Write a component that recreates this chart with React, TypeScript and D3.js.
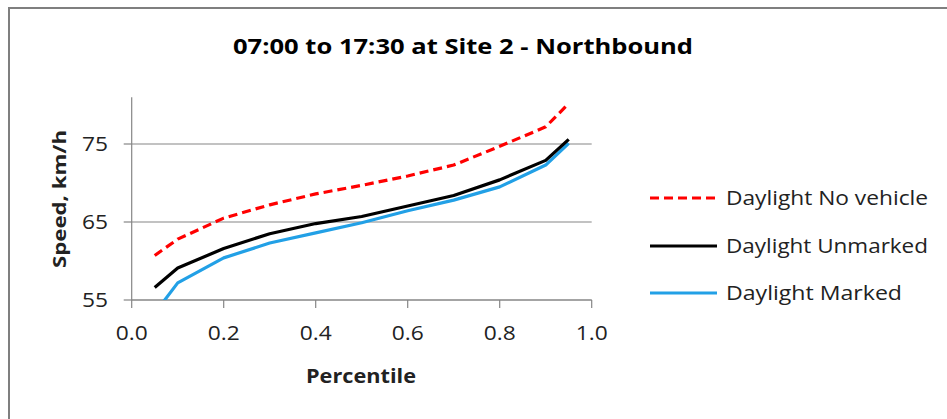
import React from "react";
import * as d3 from "d3";

const percentiles = [0.05, 0.1, 0.2, 0.3, 0.4, 0.5, 0.6, 0.7, 0.8, 0.9, 0.95];
const noVehicle = [60.7, 62.8, 65.5, 67.2, 68.6, 69.7, 70.9, 72.3, 74.7, 77.2, 80.2];
const unmarked = [56.6, 59.1, 61.6, 63.5, 64.8, 65.7, 67.05, 68.4, 70.4, 72.9, 75.6];
const marked = [53.3, 57.2, 60.4, 62.3, 63.6, 64.9, 66.45, 67.8, 69.5, 72.3, 75.1];
const xTicks = [0, 0.2, 0.4, 0.6, 0.8, 1.0];
const yTicks = [55, 65, 75];
const seriesNames = ["Daylight No vehicle", "Daylight Unmarked", "Daylight Marked"];
const titleText = "07:00 to 17:30  at Site 2 - Northbound";

const FONT = "'Open Sans', 'Noto Sans', sans-serif";

export default function App() {
  const x = d3.scaleLinear().domain([0, 1]).range([131.7, 591.7]);
  const y = d3.scaleLinear().domain([55, 81]).range([300, 97.2]);
  const line = d3
    .line<number>()
    .x((_, i) => x(percentiles[i]))
    .y((d) => y(d))
    .curve(d3.curveLinear);

  const series = [
    { name: seriesNames[0], values: noVehicle, color: "#FF0000", dash: "9,5", len: 202 },
    { name: seriesNames[1], values: unmarked, color: "#000000", dash: undefined, len: 202 },
    { name: seriesNames[2], values: marked, color: "#22A0E6", dash: undefined, len: 176 },
  ];
  const axisColor = "#868686";
  const legendY = [198, 246, 293];

  return (
    <svg
      width={947}
      height={419}
      style={{ position: "absolute", left: 0, top: 0, background: "#fff" }}
    >
      <defs>
        <clipPath id="plot">
          <rect x={x(0)} y={y(81) - 5} width={x(1) - x(0)} height={y(55) - y(81) + 5} />
        </clipPath>
      </defs>
      <rect x={9} y={8} width={1000} height={500} fill="#fff" stroke="#7f7f7f" strokeWidth={2} />
      <text
        x={463}
        y={54}
        textAnchor="middle"
        fontFamily={FONT}
        fontWeight="bold"
        fontSize={22}
        fill="#000"
        textLength={460}
        lengthAdjust="spacingAndGlyphs"
      >
        {titleText}
      </text>
      {/* gridlines */}
      {yTicks.map((t) => (
        <line key={"g" + t} x1={x(0)} x2={x(1)} y1={y(t)} y2={y(t)} stroke={axisColor} strokeWidth={1.2} />
      ))}
      {/* y axis */}
      <line x1={x(0)} x2={x(0)} y1={y(81)} y2={y(55)} stroke={axisColor} strokeWidth={1.2} />
      {yTicks.map((t) => (
        <g key={"y" + t}>
          <line x1={x(0) - 8} x2={x(0)} y1={y(t)} y2={y(t)} stroke={axisColor} strokeWidth={1.2} />
          <text
            x={108}
            y={y(t) + 7}
            textAnchor="end"
            fontFamily={FONT}
            fontSize={20}
            fill="#222"
            textLength={26}
            lengthAdjust="spacingAndGlyphs"
          >
            {t}
          </text>
        </g>
      ))}
      {/* x axis */}
      <line x1={x(0)} x2={x(1)} y1={y(55)} y2={y(55)} stroke={axisColor} strokeWidth={1.2} />
      {xTicks.map((t) => (
        <g key={"x" + t}>
          <line x1={x(t)} x2={x(t)} y1={y(55)} y2={y(55) + 8} stroke={axisColor} strokeWidth={1.2} />
          <text
            x={x(t)}
            y={340}
            textAnchor="middle"
            fontFamily={FONT}
            fontSize={20}
            fill="#222"
            textLength={32}
            lengthAdjust="spacingAndGlyphs"
          >
            {t.toFixed(1)}
          </text>
        </g>
      ))}
      <text
        x={361}
        y={383}
        textAnchor="middle"
        fontFamily={FONT}
        fontWeight="bold"
        fontSize={19}
        fill="#222"
        textLength={110}
        lengthAdjust="spacingAndGlyphs"
      >
        Percentile
      </text>
      <text
        transform="translate(66,199) rotate(-90)"
        textAnchor="middle"
        fontFamily={FONT}
        fontWeight="bold"
        fontSize={18}
        fill="#222"
        textLength={138}
        lengthAdjust="spacingAndGlyphs"
      >
        Speed, km/h
      </text>
      {/* series */}
      <g clipPath="url(#plot)">
        {series
          .slice()
          .reverse()
          .map((s) => (
            <path
              key={s.name}
              d={line(s.values) || ""}
              fill="none"
              stroke={s.color}
              strokeWidth={3.2}
              strokeDasharray={s.dash}
              strokeLinejoin="round"
            />
          ))}
      </g>
      {/* legend */}
      {series.map((s, i) => (
        <g key={"l" + s.name}>
          <line
            x1={650}
            x2={717}
            y1={legendY[i]}
            y2={legendY[i]}
            stroke={s.color}
            strokeWidth={3.2}
            strokeDasharray={s.dash}
          />
          <text
            x={726}
            y={legendY[i] + 7}
            fontFamily={FONT}
            fontSize={20}
            fill="#222"
            textLength={s.len}
            lengthAdjust="spacingAndGlyphs"
          >
            {s.name}
          </text>
        </g>
      ))}
    </svg>
  );
}
